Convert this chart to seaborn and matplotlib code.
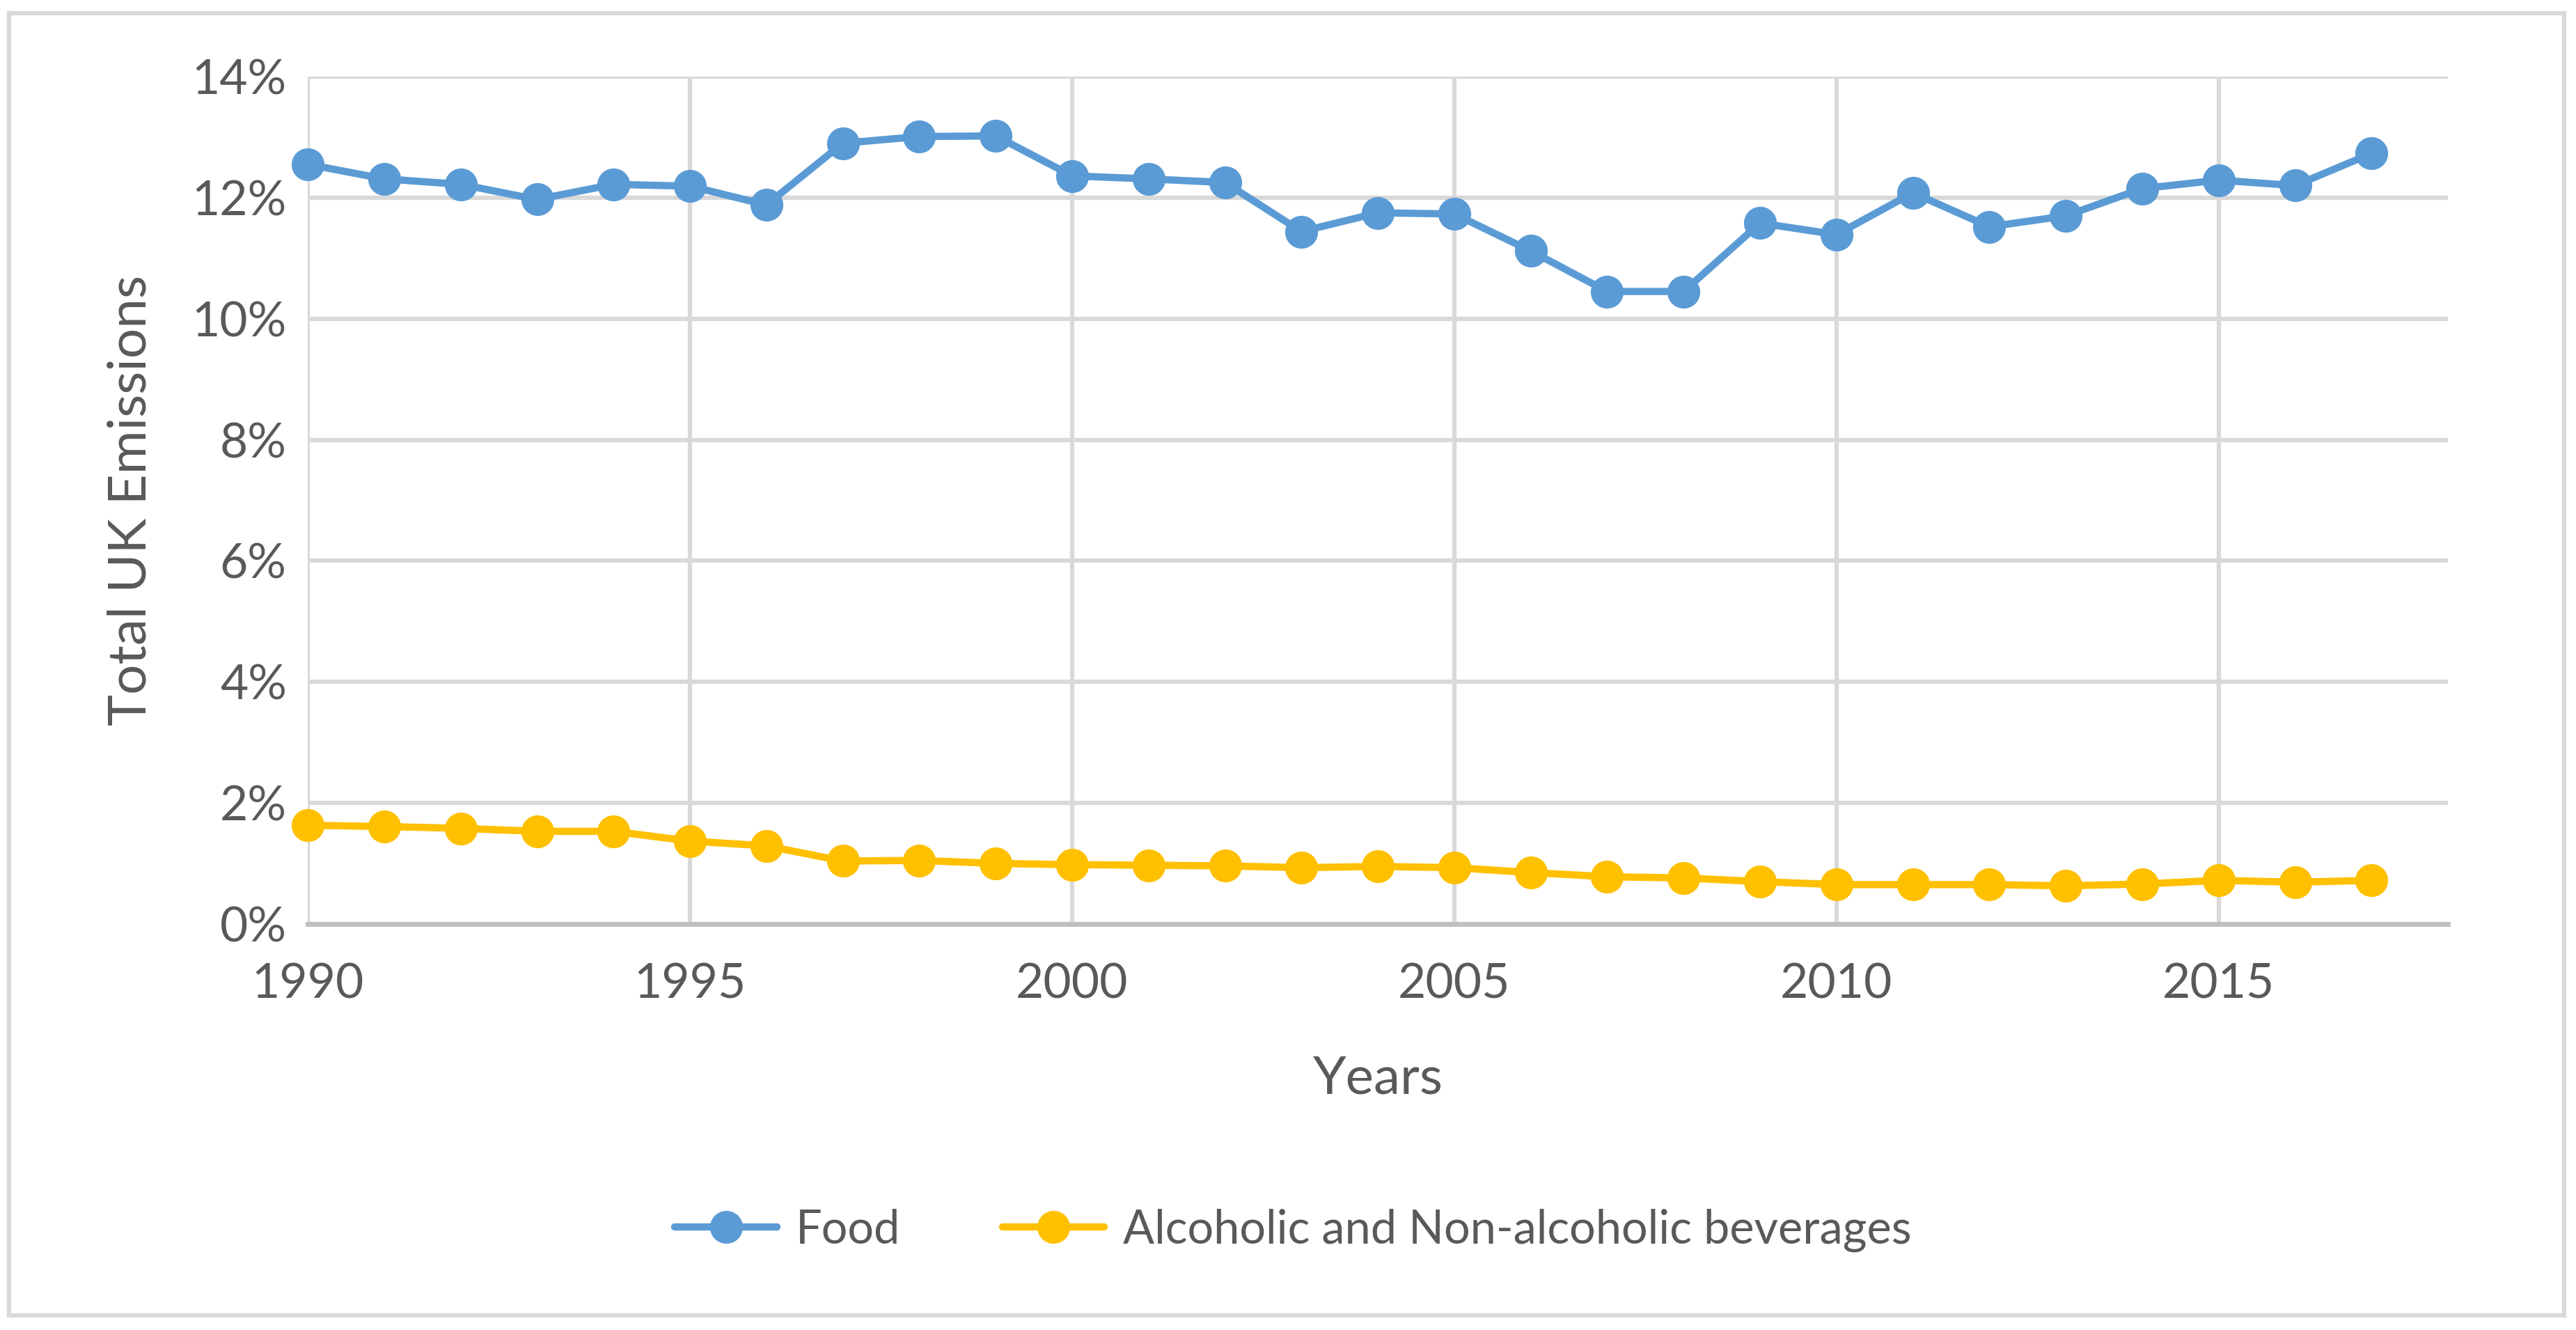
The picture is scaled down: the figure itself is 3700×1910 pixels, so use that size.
import numpy as np
import pandas as pd
import matplotlib
matplotlib.use("Agg")
import matplotlib.pyplot as plt
import matplotlib.ticker as mtick
from matplotlib.patches import Rectangle
import seaborn as sns

# Data (share of total UK emissions, %)
years = list(range(1990, 2018))
food = [12.55, 12.31, 12.22, 11.97, 12.22, 12.19, 11.88, 12.90, 13.01, 13.02,
        12.36, 12.31, 12.25, 11.44, 11.75, 11.73, 11.12, 10.45, 10.45, 11.58,
        11.39, 12.08, 11.52, 11.70, 12.15, 12.29, 12.20, 12.73]
beverages = [1.63, 1.61, 1.58, 1.53, 1.53, 1.37, 1.29, 1.04, 1.05, 1.00,
             0.98, 0.97, 0.96, 0.93, 0.95, 0.93, 0.85, 0.78, 0.76, 0.70,
             0.65, 0.65, 0.65, 0.63, 0.66, 0.72, 0.69, 0.72]
series_names = ["Food", "Alcoholic and Non-alcoholic beverages"]
colors = ["#5B9BD5", "#FFC000"]

df = pd.DataFrame({
    "Year": years * 2,
    "Share": food + beverages,
    "Series": [series_names[0]] * len(years) + [series_names[1]] * len(years),
})

sns.set_style("white")
plt.rcParams["font.family"] = ["Lato", "DejaVu Sans"]
text_color = "#595959"

fig = plt.figure(figsize=(37, 19.1), dpi=100)
ax = fig.add_axes([0.1195, 0.3053, 0.8308, 0.6371])

sns.lineplot(data=df, x="Year", y="Share", hue="Series", palette=colors,
             marker="o", markersize=34, markeredgewidth=0, linewidth=7.5,
             ax=ax, legend=False, zorder=3, clip_on=False)

# Axes, ticks and grid
ax.set_xlim(1990, 2018)
ax.set_ylim(0, 14)
ax.set_xticks(range(1990, 2016, 5))
ax.set_yticks(range(0, 15, 2))
ax.yaxis.set_major_formatter(mtick.FuncFormatter(lambda v, p: f"{v:.0f}%"))
ax.grid(True, color="#D9D9D9", linewidth=4.5)
ax.set_axisbelow(True)
for side in ["top", "right", "left"]:
    ax.spines[side].set_visible(False)
ax.spines["bottom"].set_color("#BFBFBF")
ax.spines["bottom"].set_linewidth(5)
ax.tick_params(axis="both", length=0, labelsize=50, colors=text_color)
ax.tick_params(axis="x", pad=40)
ax.tick_params(axis="y", pad=22)

ax.set_xlabel("Years", fontsize=55, color=text_color, labelpad=50)
ax.set_ylabel("Total UK Emissions", fontsize=55, color=text_color, labelpad=38)

# Legend below the axis title
handles = [plt.Line2D([0], [0], color=c, linewidth=7.5, marker="o",
                      markersize=34, markeredgewidth=0) for c in colors]
fig.legend(handles, series_names, loc="center", bbox_to_anchor=(0.502, 0.075),
           ncol=2, frameon=False, fontsize=48, labelcolor=text_color,
           handlelength=2.2, columnspacing=2.2, handletextpad=0.4)

# Light grey chart border
fig.patches.append(Rectangle((0.0035, 0.011), 0.992, 0.979, transform=fig.transFigure,
                             fill=False, edgecolor="#D9D9D9", linewidth=4.5))

fig.savefig("out.png", dpi=100, facecolor="white")
